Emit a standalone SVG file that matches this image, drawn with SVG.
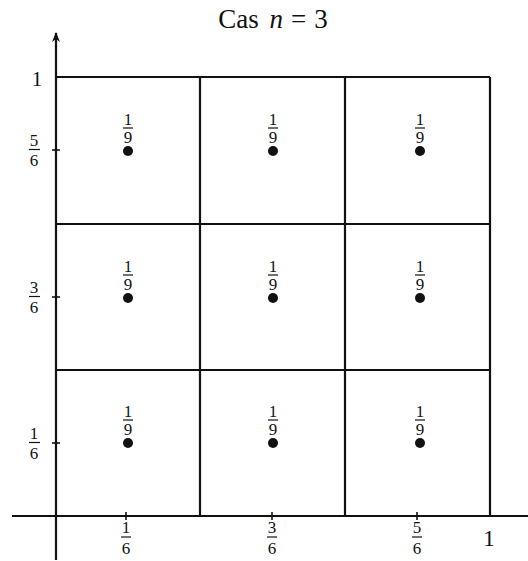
<svg xmlns="http://www.w3.org/2000/svg" width="528" height="561" viewBox="0 0 528 561">
<style>
.ln{stroke:#111;stroke-width:2.2;fill:none}
.tk{stroke:#111;stroke-width:1.6}
.fb{stroke:#111;stroke-width:1.2}
.t{font-family:"Liberation Serif",serif;fill:#111;text-anchor:middle}
.f{font-size:17px}
.dot{fill:#111}
</style>
<defs>
<marker id="arr" markerWidth="10" markerHeight="10" refX="9" refY="5" orient="auto" markerUnits="userSpaceOnUse">
<path d="M0,1 L10,5 L0,9 L3,5 Z" fill="#111"/>
</marker>
<g id="frac19">
<text class="t f" x="0" y="-26">1</text>
<line class="fb" x1="-5" y1="-23" x2="5" y2="-23"/>
<text class="t f" x="0" y="-8">9</text>
<circle class="dot" cx="0" cy="0" r="5"/>
</g>
</defs>
<text class="t" x="273" y="28" font-size="27">Cas <tspan font-style="italic" dx="4">n</tspan><tspan dx="8">=</tspan><tspan dx="8">3</tspan></text>
<g id="connectors">
<line class="ln" x1="12" y1="516" x2="528" y2="516"/>
<line class="ln" x1="56" y1="560" x2="56" y2="33" marker-end="url(#arr)"/>
<line class="ln" x1="56" y1="77" x2="490" y2="77"/>
<line class="ln" x1="56" y1="224" x2="490" y2="224"/>
<line class="ln" x1="56" y1="370" x2="490" y2="370"/>
<line class="ln" x1="200" y1="77" x2="200" y2="516"/>
<line class="ln" x1="345" y1="77" x2="345" y2="516"/>
<line class="ln" x1="490" y1="77" x2="490" y2="516"/>
<line class="tk" x1="126" y1="512" x2="126" y2="520"/>
<line class="tk" x1="272" y1="512" x2="272" y2="520"/>
<line class="tk" x1="417" y1="512" x2="417" y2="520"/>
<line class="tk" x1="52" y1="150" x2="60" y2="150"/>
<line class="tk" x1="52" y1="297" x2="60" y2="297"/>
<line class="tk" x1="52" y1="443" x2="60" y2="443"/>
</g>
<g id="axis-labels">
<text class="t" x="37" y="86" font-size="21">1</text>
<text class="t" x="489" y="546" font-size="23">1</text>
<g id="y56"><text class="t f" x="34" y="146">5</text><line class="fb" x1="29" y1="149.5" x2="40" y2="149.5"/><text class="t f" x="34" y="166">6</text></g>
<g id="y36"><text class="t f" x="34" y="293">3</text><line class="fb" x1="29" y1="296.5" x2="40" y2="296.5"/><text class="t f" x="34" y="313">6</text></g>
<g id="y16"><text class="t f" x="34" y="439">1</text><line class="fb" x1="29" y1="442.5" x2="40" y2="442.5"/><text class="t f" x="34" y="459">6</text></g>
<g id="x16"><text class="t f" x="126" y="533">1</text><line class="fb" x1="121" y1="537" x2="131" y2="537"/><text class="t f" x="126" y="554">6</text></g>
<g id="x36"><text class="t f" x="272" y="533">3</text><line class="fb" x1="267" y1="537" x2="277" y2="537"/><text class="t f" x="272" y="554">6</text></g>
<g id="x56"><text class="t f" x="417" y="533">5</text><line class="fb" x1="412" y1="537" x2="422" y2="537"/><text class="t f" x="417" y="554">6</text></g>
</g>
<g id="cell-1-1"><use href="#frac19" x="128" y="151"/></g>
<g id="cell-1-2"><use href="#frac19" x="273" y="151"/></g>
<g id="cell-1-3"><use href="#frac19" x="420" y="151"/></g>
<g id="cell-2-1"><use href="#frac19" x="128" y="298"/></g>
<g id="cell-2-2"><use href="#frac19" x="273" y="298"/></g>
<g id="cell-2-3"><use href="#frac19" x="420" y="298"/></g>
<g id="cell-3-1"><use href="#frac19" x="128" y="443"/></g>
<g id="cell-3-2"><use href="#frac19" x="273" y="443"/></g>
<g id="cell-3-3"><use href="#frac19" x="420" y="443"/></g>
</svg>
